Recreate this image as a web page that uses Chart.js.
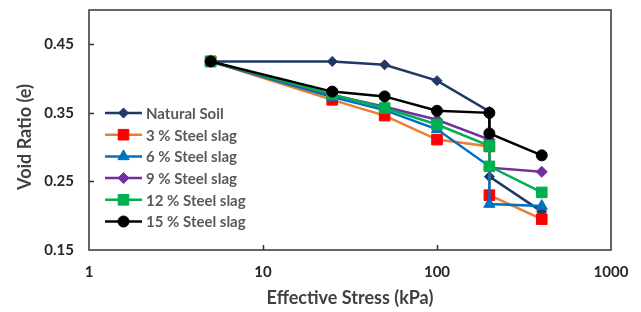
<!DOCTYPE html>
<html>
<head>
<meta charset="utf-8">
<title>Void Ratio vs Effective Stress</title>
<script src="https://cdn.jsdelivr.net/npm/chart.js@4/dist/chart.umd.min.js"></script>
<style>
    html, body { margin: 0; padding: 0; background: #fff; }
    #grafico { display: block; }
</style>
</head>
<body>
<canvas id="grafico" width="641" height="312"></canvas>
<script>
// Datos
const stress = [5, 25, 50, 100, 200, 200, 400];
const naturalSoil = [0.425, 0.425, 0.420, 0.397, 0.352, 0.257, 0.206];
const steel3 = [0.425, 0.369, 0.346, 0.311, 0.301, 0.230, 0.195];
const steel6 = [0.425, 0.373, 0.354, 0.326, 0.272, 0.217, 0.214];
const steel9 = [0.425, 0.376, 0.359, 0.340, 0.311, 0.270, 0.264];
const steel12 = [0.425, 0.377, 0.357, 0.333, 0.302, 0.272, 0.234];
const steel15 = [0.425, 0.381, 0.374, 0.353, 0.350, 0.320, 0.288];

const seriesNames = ['Natural Soil', '3 % Steel slag', '6 % Steel slag', '9 % Steel slag', '12 % Steel slag', '15 % Steel slag'];
const xTicks = [1, 10, 100, 1000];
const xTickLabels = ['1', '10', '100', '1000'];
const yTicks = [0.15, 0.25, 0.35, 0.45];
const yTickLabels = ['0.15', '0.25', '0.35', '0.45'];

const FUENTE = 'Lato, "Open Sans", sans-serif';

// Estilo de cada serie
const estilos = [
    { line: '#1F3864', fill: '#1F3864', style: 'rectRot', radius: 5 },
    { line: '#ED7D31', fill: '#FF0000', style: 'rect', radius: 7.5 },
    { line: '#0070C0', fill: '#0070C0', style: 'triangle', radius: 6.5 },
    { line: '#7030A0', fill: '#7030A0', style: 'rectRot', radius: 5.5 },
    { line: '#00B050', fill: '#00B050', style: 'rect', radius: 7.5 },
    { line: '#000000', fill: '#000000', style: 'circle', radius: 5.5 }
];

function armarDatasets() {
    const valores = [naturalSoil, steel3, steel6, steel9, steel12, steel15];
    return valores.map((serie, i) => ({
        label: seriesNames[i],
        data: serie.map((v, j) => ({ x: stress[j], y: v })),
        borderColor: estilos[i].line,
        backgroundColor: estilos[i].fill,
        borderWidth: 2.5,
        pointStyle: estilos[i].style,
        pointRadius: estilos[i].radius,
        pointBorderColor: estilos[i].fill,
        pointBackgroundColor: estilos[i].fill,
        pointBorderWidth: 1,
        tension: 0,
        order: valores.length - i
    }));
}

// Marco y marcas de escala hacia dentro
const marcoPlugin = {
    id: 'marco',
    afterDraw(chart) {
        const { ctx, chartArea: a, scales } = chart;
        ctx.save();
        ctx.strokeStyle = '#333';
        ctx.lineWidth = 1.5;
        ctx.strokeRect(a.left, a.top, a.right - a.left, a.bottom - a.top);
        ctx.beginPath();
        xTicks.slice(1, -1).forEach(v => {
            const px = Math.round(scales.x.getPixelForValue(v)) + 0.5;
            ctx.moveTo(px, a.bottom);
            ctx.lineTo(px, a.bottom - 5);
        });
        yTicks.slice(1).forEach(v => {
            const py = Math.round(scales.y.getPixelForValue(v)) + 0.5;
            ctx.moveTo(a.left, py);
            ctx.lineTo(a.left + 5, py);
        });
        ctx.stroke();

        // Título del eje Y
        ctx.fillStyle = '#404040';
        ctx.font = 'bold 18px ' + FUENTE;
        ctx.textAlign = 'center';
        ctx.textBaseline = 'middle';
        ctx.translate(25, 137);
        ctx.rotate(-Math.PI / 2);
        ctx.fillText('Void Ratio (e)', 0, 0);
        ctx.restore();
    }
};

// Leyenda dibujada dentro del área del gráfico
const leyendaPlugin = {
    id: 'leyendaInterna',
    afterDatasetsDraw(chart) {
        const ctx = chart.ctx;
        ctx.save();
        chart.data.datasets.forEach((ds, i) => {
            const y = 113 + i * 21.7;
            ctx.strokeStyle = ds.borderColor;
            ctx.lineWidth = 2.5;
            ctx.beginPath();
            ctx.moveTo(105, y);
            ctx.lineTo(142, y);
            ctx.stroke();
            ctx.fillStyle = ds.pointBackgroundColor;
            ctx.strokeStyle = ds.pointBorderColor;
            ctx.lineWidth = 1;
            Chart.helpers.drawPoint(ctx, {
                pointStyle: ds.pointStyle,
                radius: ds.pointRadius,
                rotation: 0,
                borderWidth: 1
            }, 123.5, y);
            ctx.fillStyle = '#595959';
            ctx.font = 'bold 15px ' + FUENTE;
            ctx.textAlign = 'left';
            ctx.textBaseline = 'middle';
            ctx.fillText(ds.label, 146, y + 1);
        });
        ctx.restore();
    }
};

document.addEventListener('DOMContentLoaded', () => {
    const ctx = document.getElementById('grafico').getContext('2d');
    new Chart(ctx, {
        type: 'line',
        data: { datasets: armarDatasets() },
        options: {
            responsive: false,
            animation: false,
            devicePixelRatio: 1,
            layout: { padding: { top: 10, right: 30, left: 0, bottom: 0 } },
            plugins: {
                legend: { display: false },
                tooltip: { enabled: false }
            },
            scales: {
                x: {
                    type: 'logarithmic',
                    min: 1,
                    max: 1000,
                    grid: { display: false, drawTicks: false },
                    border: { display: false },
                    afterBuildTicks: scale => { scale.ticks = xTicks.map(v => ({ value: v })); },
                    afterFit: scale => {
                        scale.height = 62;
                        scale.paddingLeft = 0;
                        scale.paddingRight = 0;
                    },
                    ticks: {
                        autoSkip: false,
                        maxRotation: 0,
                        padding: 13,
                        color: '#262626',
                        font: { family: FUENTE, size: 15, weight: 'bold' },
                        callback: (v, i) => xTickLabels[i]
                    },
                    title: {
                        display: true,
                        text: 'Effective Stress (kPa)',
                        color: '#404040',
                        font: { family: FUENTE, size: 18, weight: 'bold' },
                        padding: { top: 0, bottom: 3 }
                    }
                },
                y: {
                    type: 'linear',
                    min: 0.15,
                    max: 0.5,
                    grid: { display: false, drawTicks: false },
                    border: { display: false },
                    afterBuildTicks: scale => { scale.ticks = yTicks.map(v => ({ value: v })); },
                    afterFit: scale => {
                        scale.width = 89;
                        scale.paddingTop = 0;
                        scale.paddingBottom = 0;
                    },
                    ticks: {
                        padding: 15,
                        color: '#262626',
                        font: { family: FUENTE, size: 15, weight: 'bold' },
                        callback: (v, i) => yTickLabels[i]
                    }
                }
            }
        },
        plugins: [marcoPlugin, leyendaPlugin]
    });
});
</script>
</body>
</html>
